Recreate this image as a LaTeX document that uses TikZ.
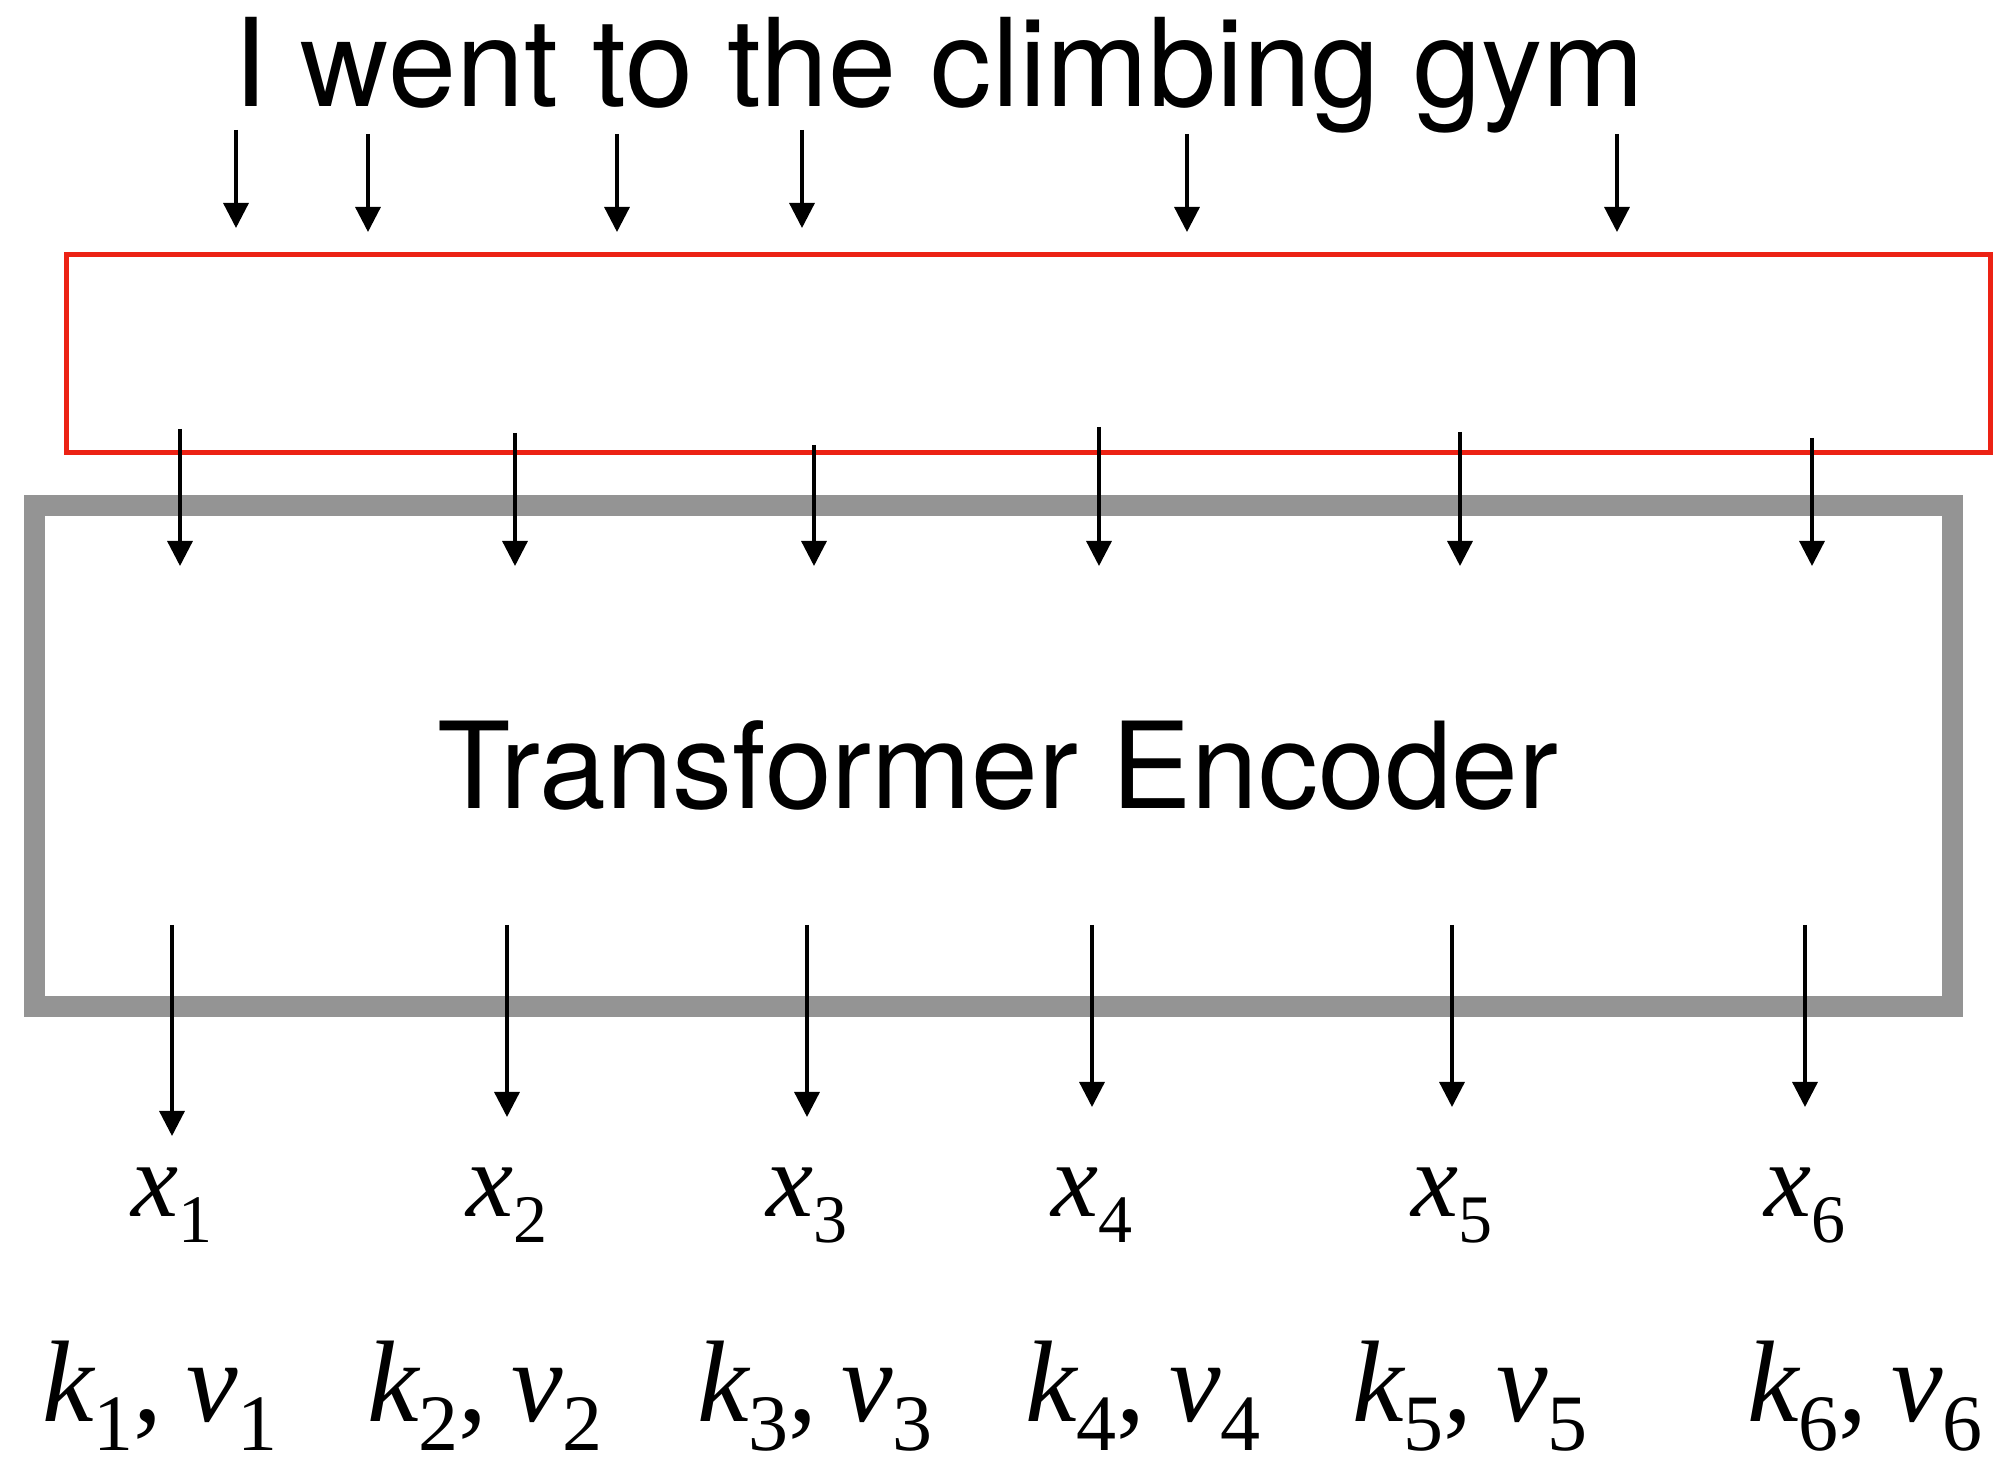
\documentclass[tikz,border=0pt]{standalone}
\usepackage{fontspec}
\setmainfont{Liberation Serif}
\newfontfamily\helv{TeX Gyre Heros}
\usetikzlibrary{arrows.meta}
\definecolor{boxred}{RGB}{236,34,20}
\definecolor{boxgray}{RGB}{148,148,148}
\newcommand\xlab[1]{{\fontsize{53}{60}\selectfont\itshape x}\raisebox{-13pt}{\fontsize{34}{40}\selectfont #1}}
\newcommand\kvlab[1]{\fontsize{58}{66}\selectfont{\itshape k}\raisebox{-14.5pt}{\fontsize{40}{48}\selectfont #1},\hspace{0.2em}{\itshape v}\raisebox{-14.5pt}{\fontsize{40}{48}\selectfont #1}}
\tikzset{
  arr/.style={line width=1.65pt, -{Triangle[length=12.5pt,width=12.5pt]}},
  redbox/.style={draw=boxred, line width=2.5pt, inner sep=0pt, minimum width=962pt, minimum height=99pt},
  graybox/.style={draw=boxgray, line width=10.5pt, inner sep=0pt, minimum width=959pt, minimum height=250.5pt},
  bigtext/.style={font=\helv\fontsize{60}{70}\selectfont, inner sep=0pt, anchor=base},
  titletext/.style={font=\helv\fontsize{61.2}{70}\selectfont, inner sep=0pt, anchor=base},
  xl/.style={inner sep=0pt, anchor=base},
}
\begin{document}
\begin{tikzpicture}[x=0.5pt,y=-0.5pt]
\useasboundingbox (0,0) rectangle (1999,1459);
% title
\node[titletext] (title) at (939,107) {I went to the climbing gym};
% boxes
\node[redbox] (red) at (1028,354) {};
\node[graybox] (enc) at (993.5,756) {};
\node[bigtext] (enclabel) at (998,809) {Transformer Encoder};
% top arrows (word -> red box)
\foreach \i/\x/\s/\t in {1/236/130/228, 2/368/134/232, 3/617/134/232, 4/802/130/228, 5/1187/134/232, 6/1617/134/232}{
  \coordinate (ws\i) at (\x,\s);
  \coordinate (we\i) at (\x,\t);
  \draw[arr] (ws\i) -- (we\i);
}
% middle arrows (red box -> encoder)
\foreach \i/\x/\s in {1/180/429, 2/515/433, 3/814/445, 4/1099/427, 5/1460/432, 6/1812/438}{
  \coordinate (ms\i) at (\x,\s);
  \coordinate (me\i) at (\x,566);
  \draw[arr] (ms\i) -- (me\i);
}
% output labels
\foreach \i/\x in {1/172, 2/507, 3/807, 4/1092, 5/1452, 6/1805}{
  \node[xl] (x\i) at (\x,1217) {\xlab{\i}};
}
\foreach \i/\x in {1/160, 2/485, 3/815, 4/1143, 5/1470, 6/1865}{
  \node[xl] (kv\i) at (\x,1421) {\kvlab{\i}};
}
% bottom arrows (encoder -> outputs)
\foreach \i/\x/\t in {1/172/1136, 2/507/1117, 3/807/1117, 4/1092/1107, 5/1452/1107, 6/1805/1107}{
  \coordinate (bs\i) at (\x,925);
  \coordinate (be\i) at (\x,\t);
  \draw[arr] (bs\i) -- (be\i);
}
\end{tikzpicture}
\end{document}
